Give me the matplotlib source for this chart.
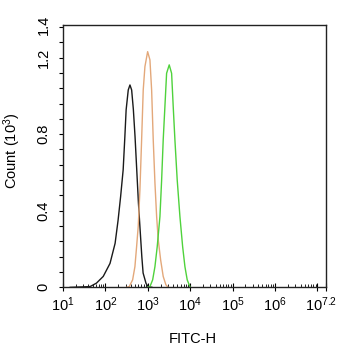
import numpy as np
from matplotlib import pyplot as plt
from matplotlib import transforms
from matplotlib.ticker import FixedLocator, LogLocator, NullFormatter

plt.rcParams['font.family'] = ['Liberation Sans', 'DejaVu Sans']
plt.rcParams['mathtext.fontset'] = 'custom'
plt.rcParams['mathtext.rm'] = 'Liberation Sans'
plt.rcParams['mathtext.it'] = 'Liberation Sans:italic'

# histogram traces: log10(FITC-H) and count (x10^3)
black_log = [1.17, 1.64, 1.79, 1.95, 2.11, 2.23, 2.30, 2.36, 2.42, 2.46, 2.49, 2.54,
             2.58, 2.62, 2.66, 2.70, 2.74, 2.78, 2.82, 2.86, 2.89, 2.96, 3.01, 3.10]
black_cnt = [0.0, 0.004, 0.022, 0.057, 0.125, 0.23, 0.35, 0.474, 0.614, 0.787, 0.927, 1.031,
             1.057, 1.031, 0.93, 0.787, 0.614, 0.44, 0.30, 0.16, 0.075, 0.02, 0.004, 0.0]

orange_log = [2.50, 2.563, 2.643, 2.697, 2.737, 2.775, 2.815, 2.855, 2.893, 2.933, 2.997,
              3.051, 3.091, 3.129, 3.169, 3.209, 3.247, 3.303, 3.364, 3.428, 3.482]
orange_cnt = [0.0, 0.004, 0.039, 0.108, 0.213, 0.318, 0.509, 0.770, 1.031, 1.153, 1.231,
              1.188, 1.031, 0.77, 0.546, 0.370, 0.248, 0.144, 0.057, 0.013, 0.0]

green_log = [3.00, 3.051, 3.115, 3.169, 3.223, 3.287, 3.327, 3.364, 3.404, 3.444, 3.506,
             3.562, 3.600, 3.640, 3.694, 3.758, 3.822, 3.876, 3.930, 3.994]
green_cnt = [0.0, 0.004, 0.039, 0.108, 0.213, 0.37, 0.561, 0.77, 0.944, 1.118, 1.162,
             1.118, 0.944, 0.77, 0.561, 0.37, 0.213, 0.108, 0.039, 0.004]

x_ticks = [1, 2, 3, 4, 5, 6, 7, 7.2]
x_labels = ['1', '2', '3', '4', '5', '6', '', '7.2']
y_ticks = [0, 0.4, 0.8, 1.2, 1.371]
y_labels = ['0', '0.4', '0.8', '1.2', '1.4']

fig = plt.figure(figsize=(3.42, 3.5), dpi=100)
ax = fig.add_axes([0.184, 0.179, 0.769, 0.75])

ax.plot(10 ** np.array(black_log), black_cnt, color='#1a1a1a', lw=1.0)
ax.plot(10 ** np.array(orange_log), orange_cnt, color='#e3a87a', lw=1.0)
ax.plot(10 ** np.array(green_log), green_cnt, color='#4fd23c', lw=1.0)

ax.set_xscale('log')
ax.set_xlim(10, 10 ** 7.2)
ax.set_ylim(0, 1.371)

ax.xaxis.set_major_locator(FixedLocator([10 ** t for t in x_ticks]))
ax.set_xticklabels([r'$\mathregular{10^{%s}}$' % s if s else '' for s in x_labels])
ax.xaxis.set_minor_locator(LogLocator(base=10, subs=np.arange(2, 10), numticks=20))
ax.xaxis.set_minor_formatter(NullFormatter())
ax.tick_params(axis='x', which='major', direction='inout', length=6, width=0.8,
               labelsize=10.5, pad=3)
ax.tick_params(axis='x', which='minor', direction='in', length=2.5, width=0.6)
# last label sits a bit left of the axis end, as in the original
last = ax.get_xticklabels()[-1]
last.set_transform(last.get_transform() + transforms.ScaledTranslation(-5 / 100, 0, fig.dpi_scale_trans))

ax.set_yticks(y_ticks)
ax.set_yticklabels(y_labels, rotation=90, va='center')
ax.set_yticks(np.arange(0, 1.37, 0.08), minor=True)
ax.tick_params(axis='y', which='both', direction='out', length=3, width=0.8,
               labelsize=10.5, pad=6)
ax.get_yticklines()[-2].set_visible(False)

for s in ax.spines.values():
    s.set_linewidth(1.0)
    s.set_color('#222222')

ax.set_xlabel('FITC-H', fontsize=10.5)
ax.xaxis.set_label_coords(0.495, -0.17)
ax.set_ylabel(r'Count ($\mathregular{10^3}$)', fontsize=10.5)
ax.yaxis.set_label_coords(-0.15, 0.52)

fig.savefig('out.png', dpi=100)
